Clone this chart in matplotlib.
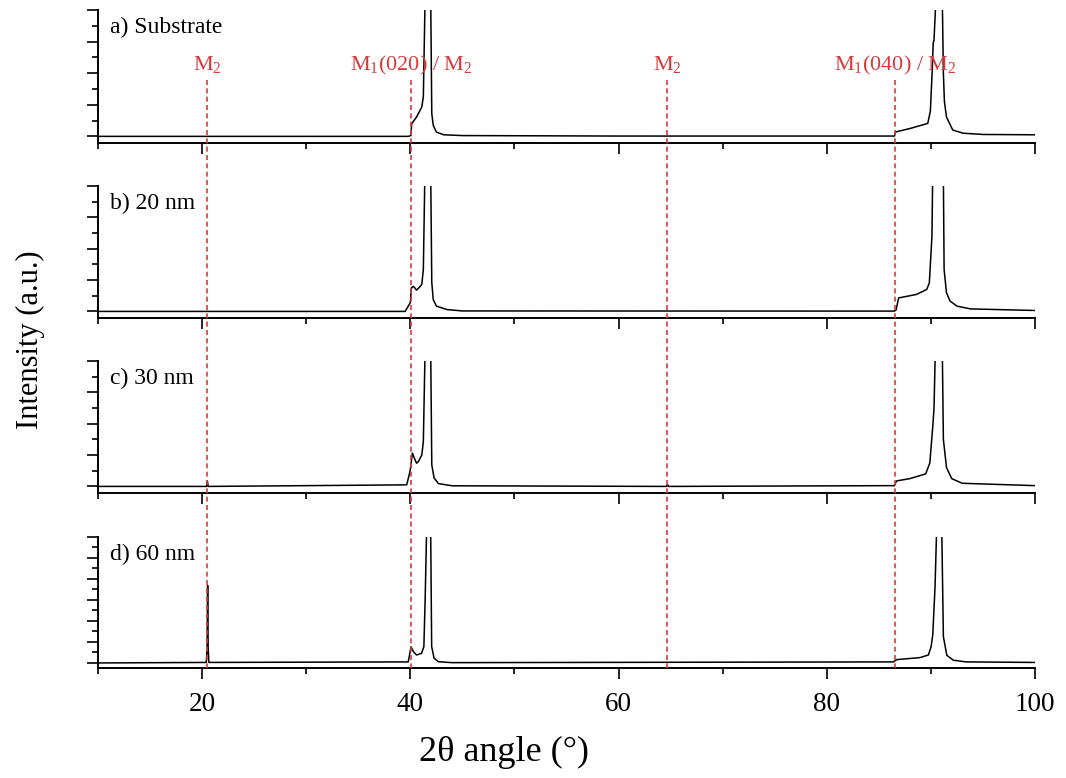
import matplotlib
matplotlib.use('Agg')
import matplotlib.pyplot as plt
from matplotlib.ticker import MultipleLocator

plt.rcParams['font.family'] = ['Liberation Serif', 'DejaVu Serif']
plt.rcParams['mathtext.fontset'] = 'custom'
plt.rcParams['mathtext.rm'] = 'Liberation Serif'
plt.rcParams['mathtext.it'] = 'Liberation Serif:italic'
plt.rcParams['axes.linewidth'] = 1.4

############################################################################### data
ang_a = [10, 39.8, 40.05, 40.13, 40.6, 41.1, 41.25, 41.41, 41.7, 41.96, 42.06, 42.2, 42.5, 43.2, 45, 60,
         86.5, 86.62, 88.0, 89.7, 89.95, 90.15, 90.22, 90.3, 90.47, 90.8, 91.1, 91.2, 91.3, 91.5, 92.1, 93.1, 95, 100]
int_a = [0, 0, 0.05, 0.8, 1.23, 1.86, 2.5, 8.5, 60, 8.5, 1.44, 0.7, 0.27, 0.1, 0.05, 0.02,
         0.02, 0.28, 0.5, 0.82, 1.6, 4.5, 5.9, 6.1, 8.5, 60, 8.5, 4.0, 2.2, 1.22, 0.4, 0.2, 0.12, 0.1]

ang_b = [10, 39.5, 40.0, 40.1, 40.3, 40.6, 40.9, 41.1, 41.25, 41.39, 41.7, 41.96, 42.06, 42.2, 42.5, 43.5, 45,
         86.5, 86.66, 86.9, 88.6, 89.6, 89.85, 90.1, 90.17, 90.7, 91.2, 91.27, 91.5, 91.84, 92.5, 93.8, 100]
int_b = [0, 0, 0.56, 1.5, 1.6, 1.36, 1.56, 1.72, 2.67, 8.5, 60, 8.5, 1.84, 0.76, 0.34, 0.12, 0.03,
         0.02, 0.1, 0.86, 1.08, 1.4, 1.82, 4.78, 8.5, 60, 8.5, 2.67, 1.18, 0.66, 0.34, 0.16, 0.06]

ang_c = [10, 20.42, 20.5, 20.58, 39.65, 39.97, 40.2, 40.45, 40.6, 40.77, 41.1, 41.25, 41.41, 41.7, 41.96,
         42.06, 42.28, 42.7, 44, 64.6, 64.7, 64.8,
         86.5, 86.7, 88.0, 89.5, 89.9, 90.2, 90.3, 90.42, 90.75, 91.1, 91.2, 91.5, 92.0, 93.0, 100]
int_c = [0, 0, 0.35, 0, 0.1, 0.96, 2.12, 1.7, 1.48, 1.58, 2.0, 2.86, 8.5, 60, 8.5,
         1.38, 0.54, 0.18, 0.04, 0, 0.12, 0,
         0.05, 0.35, 0.5, 0.8, 1.5, 4.0, 5.0, 8.5, 60, 8.5, 3.0, 1.2, 0.5, 0.2, 0.05]

ang_d = [10, 20.4, 20.48, 20.53, 20.58, 20.65, 39.8, 40.07, 40.29, 40.6, 41.08, 41.3, 41.43, 41.57, 41.76,
         41.95, 42.05, 42.28, 42.7, 44,
         86.4, 86.72, 88.96, 89.76, 90.02, 90.18, 90.4, 90.56, 90.8, 91.04, 91.2, 91.53, 92.16, 93.4, 100]
int_d = [0, 0.05, 1.5, 7.4, 1.5, 0.05, 0.1, 1.55, 1.08, 0.76, 0.92, 1.55, 6.3, 13, 60,
         13, 1.55, 0.45, 0.12, 0.03,
         0.1, 0.32, 0.51, 0.76, 1.55, 2.67, 7.3, 13, 60, 13, 2.5, 0.73, 0.26, 0.1, 0.05]

panel_lbl = ['a) Substrate', 'b) 20 nm', 'c) 30 nm', 'd) 60 nm']
peak_pos = [20.5, 40.1, 64.7, 86.6]
peak_lbl = [r'M$_\mathregular{2}$', r'M$_\mathregular{1}$(020) / M$_\mathregular{2}$',
            r'M$_\mathregular{2}$', r'M$_\mathregular{1}$(040) / M$_\mathregular{2}$']

###############################################################################  layout
W, H = 1066, 778
left, right = 98 / W, 1035 / W
# (top px, bottom px) of each panel
boxes = [(10, 143), (186, 318), (361, 493), (537, 668)]
ytop = [8, 8, 8, 12]
ybot = [-0.42, -0.42, -0.42, -0.48]
red = '#d9393c'

fig = plt.figure(figsize=(W / 100, H / 100), dpi=100)
data = [(ang_a, int_a), (ang_b, int_b), (ang_c, int_c), (ang_d, int_d)]

axes = []
for i, (x, y) in enumerate(data):
    t, b = boxes[i]
    ax = fig.add_axes([left, 1 - b / H, right - left, (b - t) / H])
    ax.plot(x, y, color='k', lw=1.1)
    ax.set_xlim(10, 100)
    ax.set_ylim(ybot[i], ytop[i])
    ax.spines['top'].set_visible(False)
    ax.spines['right'].set_visible(False)
    ax.xaxis.set_major_locator(MultipleLocator(20))
    ax.xaxis.set_minor_locator(MultipleLocator(10))
    ax.yaxis.set_major_locator(MultipleLocator(2))
    ax.yaxis.set_minor_locator(MultipleLocator(1))
    ax.tick_params(which='major', direction='out', length=8, width=1.2)
    ax.tick_params(which='minor', direction='out', length=4.5, width=1.2)
    ax.tick_params(axis='y', labelleft=False)
    ax.tick_params(axis='x', labelsize=19.5, pad=9)
    if i < 3:
        ax.tick_params(axis='x', labelbottom=False)
    ax.text(12 / 937, 1 - 23 / (b - t), panel_lbl[i], transform=ax.transAxes,
            fontsize=17, va='baseline', ha='left')
    axes.append(ax)

fig.text(504 / W, 1 - 752 / H, '2θ angle (°)', fontsize=26, ha='center', va='center')
fig.text(30 / W, 1 - 340 / H, 'Intensity (a.u.)', rotation=90, fontsize=22,
         ha='center', va='center')

# reference lines across all panels
ov = fig.add_axes([left, 1 - 668 / H, right - left, 668 / H], zorder=5)
ov.patch.set_alpha(0)
ov.set_xlim(10, 100)
ov.set_ylim(668, 0)
ov.axis('off')
ov.vlines(peak_pos, 80, 668, colors=red, linestyles=(0, (3, 2)), lw=1.2)
for p, s in zip(peak_pos, peak_lbl):
    ov.text(p, 70, s, color=red, fontsize=16, ha='center', va='baseline')

fig.savefig('out.png', dpi=100)
